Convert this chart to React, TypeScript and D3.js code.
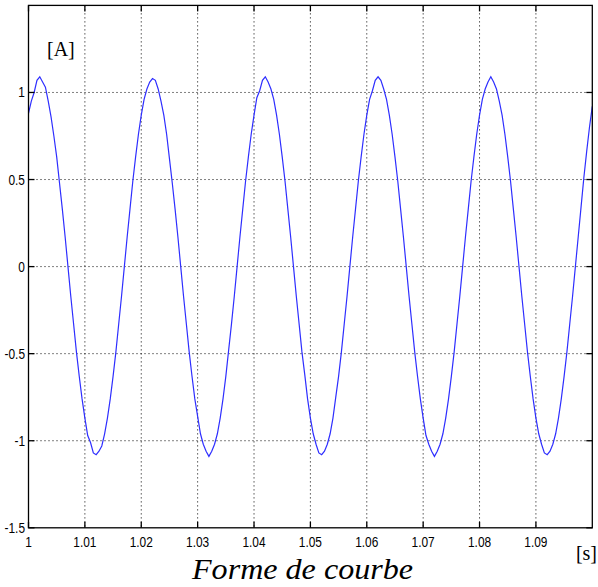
import React from "react";
import * as d3 from "d3";

const T0 = 1;
const DT = 0.0005;
// current [A], sampled every 0.5 ms from t = 1 s
const current: number[] = [
  0.88, 0.95, 1.0, 1.07, 1.09, 1.06, 1.03, 0.95, 0.86, 0.75,
  0.63, 0.48, 0.33, 0.17, 0.0, -0.17, -0.33, -0.49, -0.63, -0.76,
  -0.87, -0.97, -1.01, -1.07, -1.08, -1.06, -1.03, -0.96, -0.87, -0.76,
  -0.63, -0.49, -0.33, -0.17, 0.0, 0.17, 0.33, 0.49, 0.63, 0.76,
  0.87, 0.96, 1.02, 1.06, 1.08, 1.07, 1.02, 0.95, 0.87, 0.76,
  0.62, 0.48, 0.33, 0.17, 0.0, -0.17, -0.33, -0.49, -0.63, -0.76,
  -0.86, -0.96, -1.02, -1.06, -1.09, -1.06, -1.02, -0.96, -0.87, -0.76,
  -0.63, -0.48, -0.33, -0.17, 0.0, 0.17, 0.33, 0.49, 0.63, 0.76,
  0.87, 0.97, 1.01, 1.07, 1.09, 1.06, 1.02, 0.96, 0.87, 0.76,
  0.63, 0.49, 0.33, 0.17, 0.0, -0.17, -0.33, -0.49, -0.62, -0.76,
  -0.87, -0.96, -1.02, -1.07, -1.08, -1.06, -1.02, -0.96, -0.87, -0.75,
  -0.63, -0.49, -0.33, -0.17, 0.0, 0.17, 0.33, 0.49, 0.63, 0.76,
  0.87, 0.96, 1.01, 1.07, 1.09, 1.07, 1.02, 0.96, 0.87, 0.76,
  0.63, 0.49, 0.33, 0.17, 0.0, -0.17, -0.33, -0.49, -0.63, -0.76,
  -0.87, -0.97, -1.02, -1.06, -1.09, -1.06, -1.02, -0.96, -0.87, -0.76,
  -0.63, -0.49, -0.33, -0.17, 0.0, 0.17, 0.33, 0.49, 0.63, 0.76,
  0.87, 0.96, 1.02, 1.06, 1.09, 1.06, 1.02, 0.95, 0.87, 0.76,
  0.63, 0.49, 0.33, 0.17, 0.0, -0.17, -0.33, -0.49, -0.63, -0.76,
  -0.87, -0.96, -1.02, -1.07, -1.08, -1.06, -1.02, -0.96, -0.87, -0.76,
  -0.63, -0.49, -0.33, -0.17, 0.0, 0.17, 0.34, 0.51, 0.66, 0.8,
  0.92,
];

const xTicks: number[] = [1, 1.01, 1.02, 1.03, 1.04, 1.05, 1.06, 1.07, 1.08, 1.09];
const xTickLabels: string[] = ["1", "1.01", "1.02", "1.03", "1.04", "1.05", "1.06", "1.07", "1.08", "1.09"];
const yTicks: number[] = [-1.5, -1, -0.5, 0, 0.5, 1];
const yTickLabels: string[] = ["-1.5", "-1", "-0.5", "0", "0.5", "1"];

const W = 598;
const H = 587;
const left = 28.5;
const right = 592.3;
const top = 5.4;
const bottom = 527.8;

export default function App() {
  const x = d3.scaleLinear().domain([1, 1.1]).range([left, right]);
  const y = d3.scaleLinear().domain([-1.5, 1.5]).range([bottom, top]);
  const pts: [number, number][] = current.map((v, i) => [T0 + i * DT, v]);
  const line = d3
    .line<[number, number]>()
    .x((d) => x(d[0]))
    .y((d) => y(d[1]));
  const tl = 6;
  const tickFont = "'Liberation Sans', Arial, sans-serif";
  const serif = "'Liberation Serif', 'Times New Roman', serif";
  return (
    <svg
      width={W}
      height={H}
      style={{ position: "absolute", left: 0, top: 0, background: "#fff" }}
    >
      <rect x={0} y={0} width={W} height={H} fill="#fff" />
      <defs>
        <clipPath id="plot">
          <rect x={left} y={top} width={right - left} height={bottom - top} />
        </clipPath>
      </defs>
      {/* grid */}
      {xTicks.slice(1).map((t) => (
        <line
          key={"gx" + t}
          x1={x(t)}
          x2={x(t)}
          y1={top}
          y2={bottom}
          stroke="#000"
          strokeWidth={1}
          strokeDasharray="1,3"
        />
      ))}
      {yTicks.slice(1).map((t) => (
        <line
          key={"gy" + t}
          x1={left}
          x2={right}
          y1={y(t)}
          y2={y(t)}
          stroke="#000"
          strokeWidth={1}
          strokeDasharray="1,3"
        />
      ))}
      {/* signal */}
      <path
        d={line(pts) || ""}
        fill="none"
        stroke="#2e2eff"
        strokeWidth={1.2}
        clipPath="url(#plot)"
      />
      {/* box */}
      <rect
        x={left}
        y={top}
        width={right - left}
        height={bottom - top}
        fill="none"
        stroke="#000"
        strokeWidth={1.3}
      />
      {/* ticks */}
      {xTicks.map((t) => (
        <g key={"tx" + t}>
          <line x1={x(t)} x2={x(t)} y1={bottom} y2={bottom - tl} stroke="#000" strokeWidth={1.3} />
          <line x1={x(t)} x2={x(t)} y1={top} y2={top + tl} stroke="#000" strokeWidth={1.3} />
        </g>
      ))}
      {yTicks.map((t) => (
        <g key={"ty" + t}>
          <line x1={left} x2={left + tl} y1={y(t)} y2={y(t)} stroke="#000" strokeWidth={1.3} />
          <line x1={right} x2={right - tl} y1={y(t)} y2={y(t)} stroke="#000" strokeWidth={1.3} />
        </g>
      ))}
      {/* tick labels */}
      {xTicks.map((t, i) => (
        <text
          key={"lx" + t}
          transform={`translate(${x(t)},${546.5}) scale(0.85,1)`}
          textAnchor="middle"
          fontFamily={tickFont}
          fontSize={14}
          fill="#000"
        >
          {xTickLabels[i]}
        </text>
      ))}
      {yTicks.map((t, i) => (
        <text
          key={"ly" + t}
          transform={`translate(${25},${y(t) + 5}) scale(0.85,1)`}
          textAnchor="end"
          fontFamily={tickFont}
          fontSize={14}
          fill="#000"
        >
          {yTickLabels[i]}
        </text>
      ))}
      {/* unit labels */}
      <text x={47} y={56} fontFamily={serif} fontSize={20} fill="#000">
        [A]
      </text>
      <text x={597} y={560} textAnchor="end" fontFamily={serif} fontSize={20} fill="#000">
        [s]
      </text>
      <text
        x={192}
        y={579}
        textLength={221}
        lengthAdjust="spacingAndGlyphs"
        fontFamily={serif}
        fontStyle="italic"
        fontSize={30}
        fill="#000"
      >
        Forme de courbe
      </text>
    </svg>
  );
}
